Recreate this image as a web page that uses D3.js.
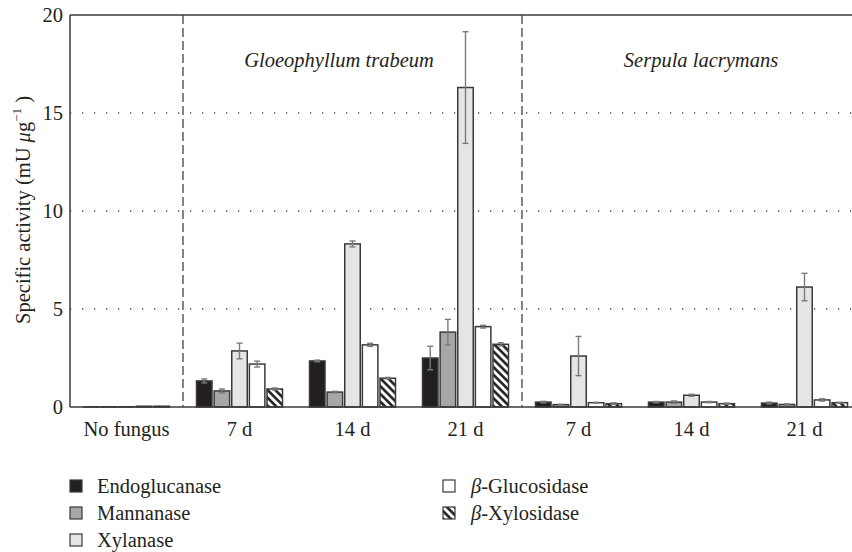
<!doctype html>
<html lang="en">
  <head>
    <meta charset="utf-8">
    <title>Specific activity</title>
    <style>
      * {
        margin: 0;
        border: 0;
        padding: 0;
      }
      body {
        background-color: #fff;
      }
      text {
        font-family: 'Liberation Serif', serif;
        fill: #231f20;
      }
    </style>
  </head>
  <body>
    <div id="chart"></div>

<script src="https://d3js.org/d3.v7.min.js"></script>
<script>

  // categories along the x axis (ids are unique, labels repeat)
  var groups = ["none", "gt7", "gt14", "gt21", "sl7", "sl14", "sl21"];
  var groupLabels = ["No fungus", "7 d", "14 d", "21 d", "7 d", "14 d", "21 d"];
  var yTicks = [0, 5, 10, 15, 20];

  var enzymes = ["Endoglucanase", "Mannanase", "Xylanase", "β-Glucosidase", "β-Xylosidase"];

  // values (mU per µg) and their error bars
  var endo      = [0.01, 1.33, 2.35, 2.5, 0.25, 0.25, 0.2];
  var endoErr   = [0, 0.1, 0.04, 0.6, 0.04, 0.03, 0.05];
  var mannan    = [0.01, 0.82, 0.76, 3.82, 0.12, 0.25, 0.13];
  var mannanErr = [0, 0.1, 0.04, 0.65, 0.02, 0.06, 0.03];
  var xylan     = [0.01, 2.86, 8.32, 16.3, 2.6, 0.6, 6.12];
  var xylanErr  = [0, 0.4, 0.15, 2.85, 1.0, 0.05, 0.7];
  var gluc      = [0.04, 2.19, 3.17, 4.1, 0.22, 0.25, 0.36];
  var glucErr   = [0, 0.15, 0.08, 0.07, 0.02, 0.03, 0.06];
  var xylos     = [0.04, 0.92, 1.47, 3.2, 0.17, 0.17, 0.22];
  var xylosErr  = [0, 0.05, 0.04, 0.08, 0.04, 0.03, 0.02];

  var series = [endo, mannan, xylan, gluc, xylos];
  var errors = [endoErr, mannanErr, xylanErr, glucErr, xylosErr];
  var fills = ["#231f20", "#a7a7a5", "#e5e5e7", "#ffffff", "url(#hatch)"];

  var width = 852, height = 552;
  var mLeft = 70, mRight = 861, mTop = 15, mBottom = 407;
  var fs = "20.5px";

  var svg = d3.select("#chart").append("svg").attr("width", width).attr("height", height);

  var defs = svg.append("defs");
  var pat = defs.append("pattern").attr("id", "hatch").attr("patternUnits", "userSpaceOnUse")
    .attr("width", 5.5).attr("height", 5.5).attr("patternTransform", "rotate(-45)");
  pat.append("rect").attr("width", 5.5).attr("height", 5.5).attr("fill", "#fff");
  pat.append("line").attr("x1", 1.4).attr("x2", 1.4).attr("y1", 0).attr("y2", 5.5)
    .attr("stroke", "#231f20").attr("stroke-width", 2.6);

  var x = d3.scaleBand().domain(groups).range([mLeft, mRight]);
  var xi = d3.scaleBand().domain(enzymes).range([13.5, 99.5]).paddingInner(0.12);
  var y = d3.scaleLinear().domain([0, 20]).range([mBottom, mTop]);

  // dotted gridlines
  svg.append("g").selectAll("line").data(yTicks.filter(d => d > 0 && d < 20)).join("line")
    .attr("x1", mLeft).attr("x2", width).attr("y1", d => y(d)).attr("y2", d => y(d))
    .attr("stroke", "#555").attr("stroke-width", 1.3).attr("stroke-dasharray", "1.3,10.7");

  // dashed separators between fungi
  svg.append("g").selectAll("line").data(["gt7", "sl7"]).join("line")
    .attr("x1", d => x(d)).attr("x2", d => x(d)).attr("y1", mTop).attr("y2", mBottom)
    .attr("stroke", "#333").attr("stroke-width", 1.2).attr("stroke-dasharray", "9,4");

  // bars
  var cells = [];
  series.forEach((s, k) => s.forEach((v, i) => cells.push({g: groups[i], e: enzymes[k], v: v, err: errors[k][i], k: k})));

  svg.append("g").selectAll("rect").data(cells).join("rect")
    .attr("x", d => x(d.g) + xi(d.e))
    .attr("y", d => y(d.v))
    .attr("width", xi.bandwidth())
    .attr("height", d => y(0) - y(d.v))
    .attr("fill", d => fills[d.k])
    .attr("stroke", "#3a3a3a").attr("stroke-width", 1.5);

  // error bars
  var eb = svg.append("g").attr("stroke", "#7a7a7a").attr("stroke-width", 1.4)
    .selectAll("g").data(cells.filter(d => d.err > 0)).join("g")
    .attr("transform", d => "translate(" + (x(d.g) + xi(d.e) + xi.bandwidth() / 2) + ",0)");
  eb.append("line").attr("y1", d => y(d.v + d.err)).attr("y2", d => y(d.v - d.err));
  eb.append("line").attr("x1", -3).attr("x2", 3).attr("y1", d => y(d.v + d.err)).attr("y2", d => y(d.v + d.err));
  eb.append("line").attr("x1", -3).attr("x2", 3).attr("y1", d => y(d.v - d.err)).attr("y2", d => y(d.v - d.err));

  // frame: left axis, top line, baseline
  svg.append("line").attr("x1", mLeft).attr("x2", mLeft).attr("y1", mTop).attr("y2", mBottom)
    .attr("stroke", "#3a3a3a").attr("stroke-width", 1.5);
  svg.append("line").attr("x1", mLeft).attr("x2", width).attr("y1", mTop).attr("y2", mTop)
    .attr("stroke", "#3a3a3a").attr("stroke-width", 1.5);
  svg.append("line").attr("x1", mLeft).attr("x2", width).attr("y1", mBottom).attr("y2", mBottom)
    .attr("stroke", "#3a3a3a").attr("stroke-width", 1.5);

  // y tick labels
  svg.append("g").selectAll("text").data(yTicks).join("text")
    .attr("x", 63).attr("y", d => y(d) + 7)
    .attr("text-anchor", "end").style("font-size", fs)
    .text(d => d);

  // x labels
  svg.append("g").selectAll("text").data(groups).join("text")
    .attr("x", d => x(d) + x.bandwidth() / 2).attr("y", 436)
    .attr("text-anchor", "middle").style("font-size", fs)
    .text((d, i) => groupLabels[i]);

  // fungus names
  svg.append("text").attr("x", 339).attr("y", 67).attr("text-anchor", "middle")
    .style("font-size", fs).style("font-style", "italic").text("Gloeophyllum trabeum");
  svg.append("text").attr("x", 701).attr("y", 67).attr("text-anchor", "middle")
    .style("font-size", fs).style("font-style", "italic").text("Serpula lacrymans");

  // y axis title
  var yt = svg.append("text").attr("transform", "translate(30,210) rotate(-90)")
    .attr("text-anchor", "middle").style("font-size", "20.5px");
  yt.append("tspan").text("Specific activity (mU ");
  yt.append("tspan").style("font-style", "italic").text("μ");
  yt.append("tspan").text("g");
  yt.append("tspan").attr("dy", -9).style("font-size", "13px").text("−1");
  yt.append("tspan").attr("dy", 9).text(" )");

  // legend
  var legendPos = [[70, 486], [70, 513], [70, 540], [443, 486], [443, 513]];
  var lg = svg.append("g").selectAll("g").data(enzymes).join("g")
    .attr("transform", (d, i) => "translate(" + legendPos[i][0] + "," + legendPos[i][1] + ")");
  lg.append("rect").attr("x", 0).attr("y", -6).attr("width", 12).attr("height", 12)
    .attr("fill", (d, i) => fills[i]).attr("stroke", "#3a3a3a").attr("stroke-width", 1.2);
  var lt = lg.append("text").attr("x", (d, i) => i < 3 ? 27 : 28).attr("y", 7).style("font-size", fs);
  lt.filter(d => d.startsWith("β")).append("tspan").style("font-style", "italic").text("β");
  lt.append("tspan").text(d => d.startsWith("β") ? d.slice(1) : d);

</script>
  </body>
</html>
